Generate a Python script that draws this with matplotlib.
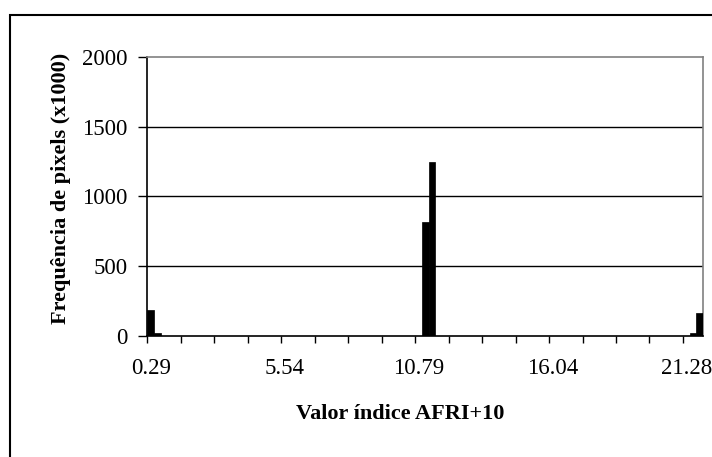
import matplotlib.pyplot as plt
from matplotlib.patches import Rectangle
import numpy as np

plt.rcParams['font.family'] = ['Liberation Serif', 'DejaVu Serif']

# histograma do indice AFRI+10 (83 classes), frequencia em milhares de pixels
freq = [186, 20, 0, 0, 0, 0, 0, 0, 0, 0,
        0, 0, 0, 0, 0, 0, 0, 0, 0, 0,
        0, 0, 0, 0, 0, 0, 0, 0, 0, 0,
        0, 0, 0, 0, 0, 0, 0, 0, 0, 0,
        0, 820, 1245, 0, 0, 0, 0, 0, 0, 0,
        0, 0, 0, 0, 0, 0, 0, 0, 0, 0,
        0, 0, 0, 0, 0, 0, 0, 0, 0, 0,
        0, 0, 0, 0, 0, 0, 0, 0, 0, 0,
        0, 20, 165]
rotulos_x = ['0.29', '5.54', '10.79', '16.04', '21.28']
ticks_y = [0, 500, 1000, 1500, 2000]

n = len(freq)
x = np.arange(n)
fs = 16.5

fig = plt.figure(figsize=(7.12, 4.57), dpi=100)
ax = fig.add_axes([0.2069, 0.2648, 0.7805, 0.6105])

ax.bar(x, freq, width=1.0, color='black', edgecolor='black', linewidth=0.5, zorder=3)

# linhas de grade horizontais
for v in ticks_y[1:-1]:
    ax.axhline(v, color='black', linewidth=1.0, zorder=1)

ax.set_yticks(ticks_y)
ax.set_yticklabels([str(v) for v in ticks_y], fontsize=fs)
ax.tick_params(axis='y', direction='out', length=6.5, width=1, pad=7.5)

# marcas a cada 5 classes, rotulos a cada 20
ax.set_xticks(np.arange(-0.5, n - 0.5, 5), minor=True)
ax.tick_params(axis='x', which='minor', direction='out', length=5, width=1)
ax.set_xticks(np.arange(0, n, 20))
ax.set_xticklabels(rotulos_x, fontsize=fs)
ax.tick_params(axis='x', which='major', length=0, pad=16)

ax.set_xlim(-0.5, n - 0.5)
ax.set_ylim(0, 2000)

for lado in ['left', 'bottom']:
    ax.spines[lado].set_color('black')
    ax.spines[lado].set_linewidth(1.2)
for lado in ['top', 'right']:
    ax.spines[lado].set_color('#808080')
    ax.spines[lado].set_linewidth(1.2)

ax.set_xlabel('Valor índice AFRI+10', fontsize=16, fontweight='bold')
ax.set_ylabel('Frequência de pixels (x1000)', fontsize=16, fontweight='bold')
ax.xaxis.set_label_coords(0.455, -0.245)
ax.yaxis.set_label_coords(-0.137, 0.53)

# moldura externa do grafico
fig.patches.append(Rectangle((10 / 712, -0.1), 1.2, 1 - 15 / 457 + 0.1,
                             transform=fig.transFigure, fill=False,
                             edgecolor='black', linewidth=1.5))

fig.savefig('out.png', dpi=100)
